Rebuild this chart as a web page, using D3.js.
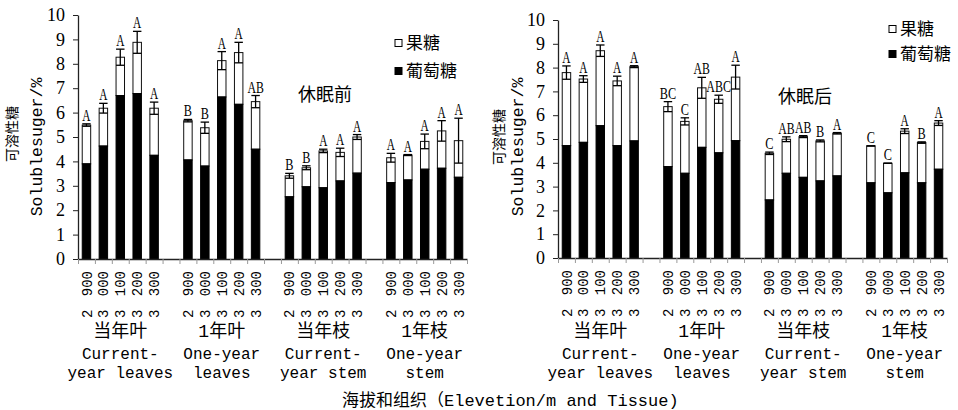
<!DOCTYPE html>
<html><head><meta charset="utf-8">
<script src="https://cdn.jsdelivr.net/npm/d3@7/dist/d3.min.js"></script>
<style>
html,body{margin:0;padding:0;background:#fff;}
svg{display:block;}
</style></head>
<body>
<svg id="chart" width="958" height="410"></svg>
<script>
// ---------- data ----------
const groupsCN = ["当年叶", "1年叶", "当年枝", "1年枝"];
const groupsEN = [["Current-", "year leaves"], ["One-year", "leaves"], ["Current-", "year stem"], ["One-year", "stem"]];
const elevations = ["2 900", "3 000", "3 100", "3 200", "3 300"];
const yTickValues = [0, 1, 2, 3, 4, 5, 6, 7, 8, 9, 10];
const legendLabels = ["果糖", "葡萄糖"];
const stageLabels = ["休眠前", "休眠后"];
const yLabelCN = "可溶性糖";
const yLabelEN = "Solublesuger/%";
const xTitle = "海拔和组织（Elevetion/m and Tissue)";

// before dormancy (休眠前)
const glucoseBefore = [3.90, 4.63, 6.70, 6.78, 4.25,  4.06, 3.81, 6.64, 6.34, 4.50,  2.55, 2.96, 2.92, 3.20, 3.52,  3.13, 3.24, 3.68, 3.72, 3.35];
const fructoseBefore = [1.59, 1.55, 1.57, 2.10, 1.93,  1.61, 1.57, 1.49, 2.12, 1.95,  0.86, 0.78, 1.51, 1.17, 1.48,  1.02, 1.02, 1.14, 1.53, 1.50];
const errBefore = [0.05, 0.20, 0.33, 0.45, 0.25,  0.05, 0.23, 0.37, 0.42, 0.25,  0.10, 0.08, 0.07, 0.17, 0.10,  0.18, 0.02, 0.30, 0.42, 0.92];
const lettersBefore = ["A","A","A","A","A",  "B","B","A","A","AB",  "B","B","A","A","A",  "A","A","A","A","A"];

// after dormancy (休眠后)
const glucoseAfter = [4.72, 4.86, 5.56, 4.72, 4.92,  3.84, 3.56, 4.65, 4.42, 4.93,  2.44, 3.56, 3.39, 3.24, 3.45,  3.16, 2.74, 3.58, 3.16, 3.73];
const fructoseAfter = [3.07, 2.66, 3.15, 2.72, 3.12,  2.52, 2.18, 2.50, 2.25, 2.67,  1.96, 1.43, 1.71, 1.68, 1.79,  1.55, 1.24, 1.75, 1.69, 1.94];
const errAfter = [0.28, 0.14, 0.24, 0.20, 0.04,  0.21, 0.15, 0.44, 0.17, 0.50,  0.05, 0.10, 0.04, 0.04, 0.03,  0.00, 0.00, 0.10, 0.03, 0.10];
const lettersAfter = ["A","A","A","A","A",  "BC","C","AB","ABC","A",  "C","AB","AB","B","A",  "C","C","A","B","A"];

// ---------- layout ----------
const MONO = "'Liberation Mono','Noto Sans CJK SC',monospace";
const SERIF = "'Liberation Serif','Times New Roman',serif";
const CJK = "'Noto Sans CJK SC',sans-serif";

const svg = d3.select("#chart");

// slots: 5 bars per group with an empty slot between groups
const slots = [];
const slotInfo = {};
groupsCN.forEach((g, gi) => {
  elevations.forEach((e, ei) => {
    const id = `s${gi}_${ei}`;
    slots.push(id);
    slotInfo[id] = { gi, ei, idx: gi * 5 + ei, label: e };
  });
  if (gi < groupsCN.length - 1) slots.push(`gap${gi}`);
});

function drawPanel(cfg) {
  const g = svg.append("g");
  const x = d3.scaleBand().domain(slots).range([cfg.x0, cfg.x1]).paddingInner(0.5).paddingOuter(0.25);
  const xb = d3.scaleLinear().domain([0, slots.length]).range([cfg.x0, cfg.x1]);
  const y = d3.scaleLinear().domain([0, 10]).range([cfg.yBottom, cfg.yTop]);

  const rows = slots.filter(s => slotInfo[s]).map(s => {
    const i = slotInfo[s].idx;
    return { s, glu: cfg.glucose[i], fru: cfg.fructose[i], err: cfg.err[i], letter: cfg.letters[i] };
  });

  // bars
  const bw = x.bandwidth();
  g.selectAll("rect.fru").data(rows).join("rect").attr("class", "fru")
    .attr("x", d => x(d.s)).attr("width", bw)
    .attr("y", d => y(d.glu + d.fru)).attr("height", d => y(d.glu) - y(d.glu + d.fru))
    .attr("fill", "#fff").attr("stroke", "#111").attr("stroke-width", 1);
  g.selectAll("rect.glu").data(rows).join("rect").attr("class", "glu")
    .attr("x", d => x(d.s)).attr("width", bw)
    .attr("y", d => y(d.glu)).attr("height", d => y(0) - y(d.glu))
    .attr("fill", "#000").attr("stroke", "#000").attr("stroke-width", 1);

  // error bars
  const eb = g.selectAll("g.err").data(rows).join("g").attr("class", "err");
  const cx = d => x(d.s) + bw / 2;
  eb.append("line")
    .attr("x1", cx).attr("x2", cx)
    .attr("y1", d => y(d.glu + d.fru + d.err)).attr("y2", d => y(d.glu + d.fru - d.err))
    .attr("stroke", "#000").attr("stroke-width", 1.3);
  [1, -1].forEach(sgn => {
    eb.append("line")
      .attr("x1", d => cx(d) - bw / 2).attr("x2", d => cx(d) + bw / 2)
      .attr("y1", d => y(d.glu + d.fru + sgn * d.err)).attr("y2", d => y(d.glu + d.fru + sgn * d.err))
      .attr("stroke", "#000").attr("stroke-width", 1.3);
  });

  // significance letters (narrow, tall serif like the original)
  g.selectAll("text.letter").data(rows).join("text").attr("class", "letter")
    .attr("x", cx).attr("y", d => y(d.glu + d.fru + d.err) - 3)
    .attr("text-anchor", "middle")
    .attr("textLength", d => 8.2 * d.letter.length).attr("lengthAdjust", "spacingAndGlyphs")
    .style("font-family", SERIF).style("font-size", "17px").attr("fill", "#000")
    .text(d => d.letter);

  // y axis
  const ya = g.append("g").attr("transform", `translate(${cfg.x0},0)`)
    .call(d3.axisLeft(y).tickValues(yTickValues).tickSize(5).tickSizeOuter(0).tickPadding(8));
  ya.select(".domain").attr("stroke", "#222").attr("stroke-width", 1.3);
  ya.selectAll(".tick line").attr("stroke", "#222");
  ya.selectAll(".tick text").style("font-family", SERIF).style("font-size", "18px").attr("fill", "#000");

  // x axis boundary ticks
  const xa = g.append("g").attr("transform", `translate(0,${cfg.yBottom})`)
    .call(d3.axisBottom(xb).tickValues(d3.range(slots.length + 1)).tickFormat("").tickSize(5).tickSizeOuter(0));
  xa.select(".domain").attr("stroke", "#222").attr("stroke-width", 1.3);
  xa.selectAll(".tick line").attr("stroke", "#999");

  // x tick labels (rotated)
  const xl = g.append("g").attr("transform", `translate(0,${cfg.yBottom})`)
    .call(d3.axisBottom(x).tickSize(0).tickFormat(d => slotInfo[d] ? slotInfo[d].label : ""));
  xl.select(".domain").remove();
  xl.selectAll(".tick text").each(function (d) {
    const t = d3.select(this);
    const lab = slotInfo[d] ? slotInfo[d].label : "";
    t.text(null)
      .attr("transform", "rotate(-90)")
      .attr("text-anchor", "end")
      .attr("x", -12).attr("y", 0).attr("dy", "0.36em")
      .style("font-family", MONO).style("font-size", "14px").attr("fill", "#000");
    if (!lab) return;
    const parts = lab.split(" ");
    t.append("tspan").text(parts[0]);
    t.append("tspan").attr("dx", "0.95em").text(parts[1]);
  });

  // group labels
  groupsCN.forEach((name, gi) => {
    const first = x(`s${gi}_0`), last = x(`s${gi}_4`) + bw;
    const gx = (first + last) / 2;
    g.append("text").attr("x", gx).attr("y", 331).attr("dy", "0.36em")
      .attr("text-anchor", "middle").style("font-family", MONO).style("font-size", "18px").attr("fill", "#000")
      .text(name);
    groupsEN[gi].forEach((line, li) => {
      g.append("text").attr("x", gx).attr("y", 353 + li * 19).attr("dy", "0.36em")
        .attr("text-anchor", "middle").style("font-family", MONO).style("font-size", "16px").attr("fill", "#000")
        .text(line);
    });
  });

  // y axis title
  g.append("text").attr("transform", `translate(${cfg.yLabX},${cfg.yLabCNy}) rotate(-90)`)
    .attr("text-anchor", "middle").attr("dy", "0.36em")
    .style("font-family", CJK).style("font-size", "14px").attr("fill", "#000").text(yLabelCN);
  g.append("text").attr("transform", `translate(${cfg.yLabENx},147) rotate(-90)`)
    .attr("text-anchor", "middle").attr("dy", "0.36em")
    .style("font-family", MONO).style("font-size", "16.5px").attr("fill", "#000").text(yLabelEN);

  // stage label
  g.append("text").attr("x", cfg.stageX).attr("y", cfg.stageY).attr("dy", "0.36em")
    .attr("text-anchor", "middle").style("font-family", CJK).style("font-size", "18px").attr("fill", "#000")
    .text(cfg.stage);

  // legend
  legendLabels.forEach((lab, li) => {
    const ly = cfg.legY + li * cfg.legGap;
    g.append("rect").attr("x", cfg.legX).attr("y", ly - 3.5).attr("width", 7).attr("height", 7)
      .attr("fill", li === 0 ? "#fff" : "#000").attr("stroke", "#000").attr("stroke-width", 1);
    g.append("text").attr("x", cfg.legX + 11).attr("y", ly).attr("dy", "0.36em")
      .style("font-family", CJK).style("font-size", "17px").attr("fill", "#000").text(lab);
  });
}

drawPanel({
  x0: 78, x1: 467, yBottom: 259, yTop: 15,
  glucose: glucoseBefore, fructose: fructoseBefore, err: errBefore, letters: lettersBefore,
  stage: stageLabels[0], stageX: 325, stageY: 95,
  legX: 395, legY: 43, legGap: 28,
  yLabX: 12, yLabCNy: 134, yLabENx: 36
});
drawPanel({
  x0: 558, x1: 947, yBottom: 258, yTop: 20,
  glucose: glucoseAfter, fructose: fructoseAfter, err: errAfter, letters: lettersAfter,
  stage: stageLabels[1], stageX: 805, stageY: 97,
  legX: 889, legY: 29, legGap: 25,
  yLabX: 499, yLabCNy: 137, yLabENx: 517
});

// x-axis title
svg.append("text").attr("x", 342).attr("y", 400).attr("dy", "0.36em")
  .style("font-family", MONO).style("font-size", "17px").attr("fill", "#000").text(xTitle);
</script>
</body></html>
